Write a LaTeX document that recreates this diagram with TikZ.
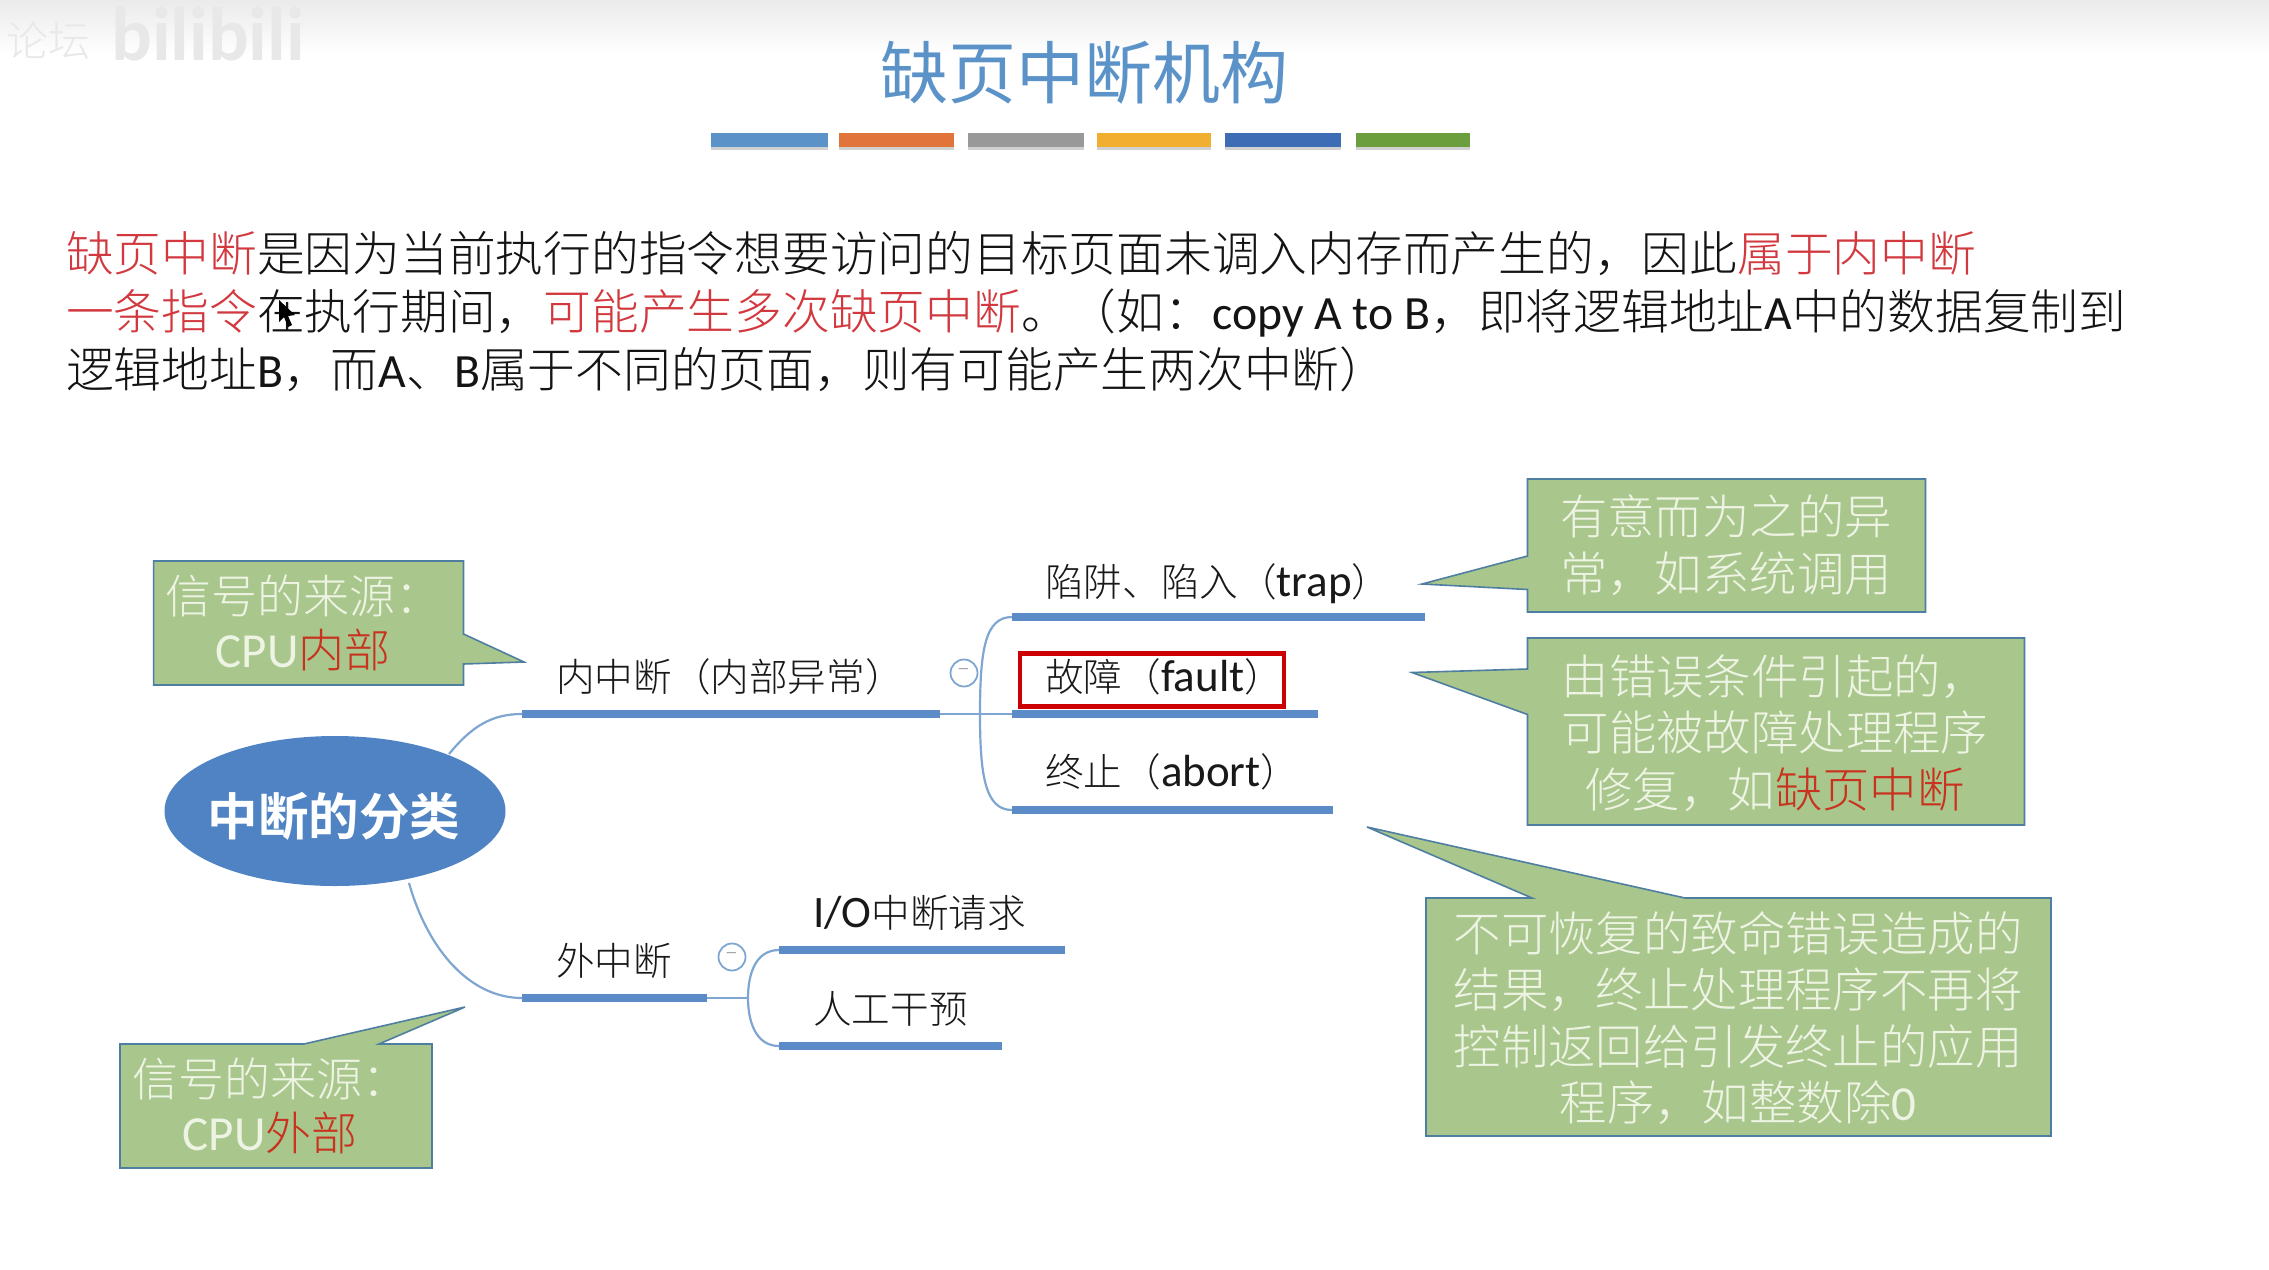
\documentclass[tikz,border=0pt]{standalone}
\usepackage{fontspec}
\setmainfont{Noto Sans CJK SC}[UprightFont=* Light,BoldFont=* Bold]
\newfontfamily\reg{Noto Sans CJK SC}
\newfontfamily\lat{Carlito}
\newcommand{\mlat}[1]{{\fontsize{45}{45}\selectfont\lat #1}}
\newcommand{\clat}[1]{{\fontsize{49}{49}\selectfont\lat #1}}
\usetikzlibrary{shapes.geometric,calc}
\definecolor{redt}{HTML}{D2393F}
\definecolor{redc}{HTML}{C8321E}
\definecolor{titleb}{HTML}{5B93C9}
\definecolor{barb}{HTML}{5B8CC8}
\definecolor{thinb}{HTML}{7FA6D0}
\definecolor{calf}{HTML}{A9C68C}
\definecolor{cald}{HTML}{4F7FA0}
\definecolor{calt}{HTML}{EEF4E4}
\definecolor{ell}{HTML}{4F83C4}
\tikzset{
  body/.style={anchor=base west,inner sep=0pt,font=\fontsize{47.75}{47.75}\selectfont,text=black!92},
  mm/.style={anchor=base west,inner sep=0pt,font=\fontsize{38.6}{38.6}\selectfont,text=black!90},
  caltext/.style={anchor=center,inner sep=0pt,align=center,text=calt,font=\fontsize{47.4}{56.4}\selectfont},
  callout/.style={fill=calf,draw=cald,line width=1.6pt,line join=miter},
  bar/.style={draw=barb,line width=8.5pt},
  thin/.style={draw=thinb,line width=2.2pt},
  colbar/.style={line width=14pt},
  minus/.style={circle,draw=thinb,fill=white,line width=1.8pt,minimum size=27pt,inner sep=0pt,text=black!45,font=\fontsize{20}{20}\selectfont}
}
\begin{document}
\begin{tikzpicture}[x=1pt,y=-1pt]
\useasboundingbox (0,0) rectangle (2269,1269);
\fill[white] (0,0) rectangle (2269,1269);
\shade[top color=black!8,bottom color=white] (0,0) rectangle (2269,55);
% watermark
\node[inner sep=0pt,text=black!9,font=\fontsize{42}{42}\selectfont] (wm1) at (48,40) {论坛};
\node[inner sep=0pt,text=black!9,font=\bfseries\fontsize{76}{76}\selectfont\lat] (wm2) at (208,34) {bilibili};
% title
\node[inner sep=0pt,text=titleb,font=\fontsize{68}{68}\selectfont\reg] (title) at (1084,73) {缺页中断机构};
\foreach \a/\b/\c in {711/828/5B93C9,839/954/E0743A,968/1084/999999,1097/1211/F2AE30,1225/1341/3F6DB5,1356/1470/6C9E3E}{
  \definecolor{tmpc}{HTML}{\c}
  \draw[colbar,black!18] (\a,143) -- (\b,143);
  \draw[colbar,tmpc] (\a,140) -- (\b,140);
}
% body text
\node[body] (l1) at (66,271) {\textcolor{redt}{缺页中断}是因为当前执行的指令想要访问的目标页面未调入内存而产生的，因此\textcolor{redt}{属于内中断}};
\node[body] (l2) at (66,329) {\textcolor{redt}{一条指令}在执行期间，\textcolor{redt}{可能产生多次缺页中断}。（如：{\lat copy A to B}，即将逻辑地址{\lat A}中的数据复制到};
\node[body] (l3) at (66,387) {逻辑地址{\lat B}，而{\lat A}、{\lat B}属于不同的页面，则有可能产生两次中断）};
% cursor
\fill[black] (279,300) -- (279,322) -- (284,317) -- (288,327) -- (292,325) -- (288,316) -- (295,315) -- cycle;
% root
\node[ellipse,fill=ell,minimum width=341pt,minimum height=150pt,inner sep=0pt] (root) at (335,811) {};
\node[inner sep=0pt,text=white,font=\bfseries\fontsize{50.5}{50.5}\selectfont] (roott) at (334,816) {中断的分类};
% mind map coordinates
\coordinate (neiA) at (522,714); \coordinate (neiB) at (940,714);
\coordinate (waiA) at (522,998); \coordinate (waiB) at (707,998);
\coordinate (trapA) at (1012,617); \coordinate (trapB) at (1425,617);
\coordinate (fauA) at (1012,714); \coordinate (fauB) at (1318,714);
\coordinate (aboA) at (1012,810); \coordinate (aboB) at (1333,810);
\coordinate (ioA) at (779,950); \coordinate (ioB) at (1065,950);
\coordinate (manA) at (779,1046); \coordinate (manB) at (1002,1046);
\coordinate (forkU) at (980,714); \coordinate (forkL) at (748,998);
\coordinate (rootU) at (449,754); \coordinate (rootL) at (409,883);
% thin connectors
\draw[thin] (rootU) .. controls (472,726) and (492,714) .. (neiA);
\draw[thin] (rootL) .. controls (428,950) and (470,998) .. (waiA);
\draw[thin] (neiB) -- (fauA);
\draw[thin] (forkU) .. controls (980,650) and (985,617) .. (trapA);
\draw[thin] (forkU) .. controls (980,775) and (985,810) .. (aboA);
\draw[thin] (waiB) -- (forkL);
\draw[thin] (forkL) .. controls (748,975) and (755,950) .. (ioA);
\draw[thin] (forkL) .. controls (748,1020) and (755,1046) .. (manA);
% bars
\foreach \p in {nei,wai,trap,fau,abo,io,man}{\draw[bar] (\p A) -- (\p B);}
\node[minus] (m1) at (964,673) {−};
\node[minus] (m2) at (732,957) {−};
% labels
\node[mm] (t1) at (556,691) {内中断（内部异常）};
\node[mm] (t2) at (556,975) {外中断};
\node[mm] (t3) at (1045,596) {陷阱、陷入（\mlat{trap}）};
\node[mm] (t4) at (1045,691) {故障（\mlat{fault}）};
\node[mm] (t5) at (1045,786) {终止（\mlat{abort}）};
\node[mm] (t6) at (813,927) {\mlat{I/O}中断请求};
\node[mm] (t7) at (813,1023) {人工干预};
\node[draw=red!80!black,line width=4.5pt,minimum width=264pt,minimum height=53pt,inner sep=0pt] (rb) at (1152,680) {};
% callouts
\draw[callout] (153.6,561) -- (463.5,561) -- (463.5,634) -- (524,662) -- (463.5,664) -- (463.5,685) -- (153.6,685) -- cycle;
\node[caltext,font=\fontsize{46}{54}\selectfont] (c1) at (303,623) {信号的来源：\\\clat{CPU}\textcolor{redc}{内部}};
\draw[callout] (120,1044) -- (304,1044) -- (465,1007) -- (379,1044) -- (432,1044) -- (432,1168) -- (120,1168) -- cycle;
\node[caltext,font=\fontsize{46}{54}\selectfont] (c2) at (270,1106) {信号的来源：\\\clat{CPU}\textcolor{redc}{外部}};
\draw[callout] (1527.5,479) -- (1925.5,479) -- (1925.5,612) -- (1527.5,612) -- (1527.5,589.5) -- (1422,584) -- (1527.5,556) -- cycle;
\node[caltext] (c3) at (1726,545) {有意而为之的异\\常，如系统调用};
\draw[callout] (1527.5,638) -- (2024.5,638) -- (2024.5,825) -- (1527.5,825) -- (1527.5,714.5) -- (1412,672.5) -- (1527.5,669) -- cycle;
\node[caltext] (c4) at (1775,733) {由错误条件引起的，\\可能被故障处理程序\\修复，如\textcolor{redc}{缺页中断}};
\draw[callout] (1426,898) -- (1532,898) -- (1367,827) -- (1685,898) -- (2051,898) -- (2051,1136) -- (1426,1136) -- cycle;
\node[caltext] (c5) at (1738,1018) {不可恢复的致命错误造成的\\结果，终止处理程序不再将\\控制返回给引发终止的应用\\程序，如整数除\clat{0}};
\end{tikzpicture}
\end{document}
